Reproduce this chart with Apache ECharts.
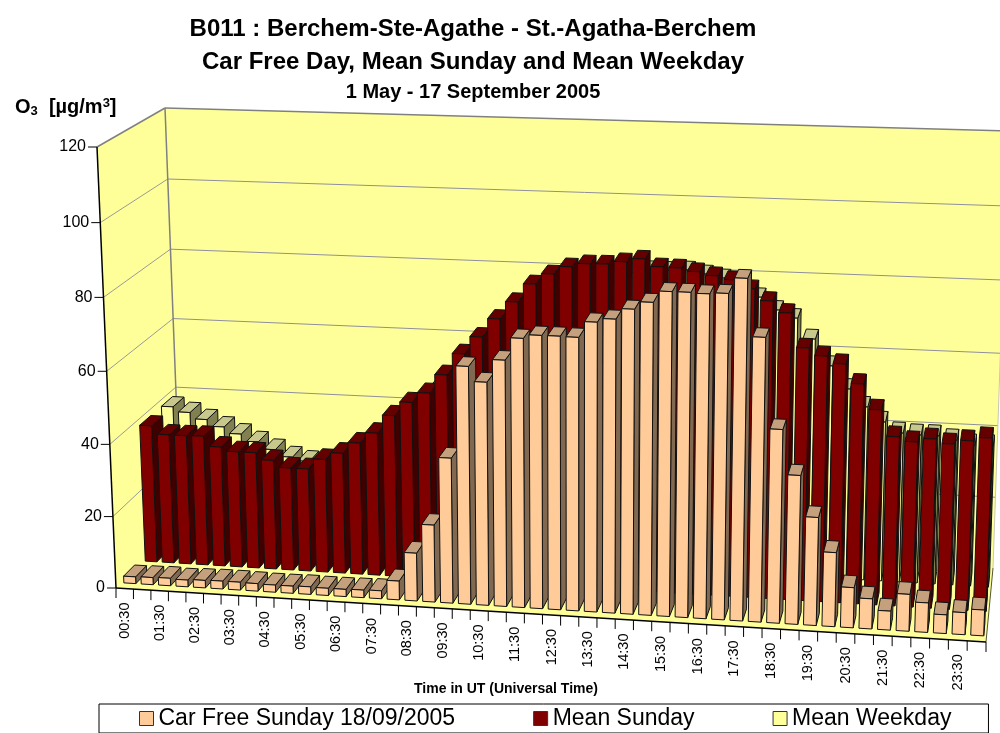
<!DOCTYPE html>
<html>
<head>
<meta charset="utf-8">
<title>B011 O3</title>
<script src="https://cdn.jsdelivr.net/npm/echarts@6/dist/echarts.min.js"></script>
<style>
html, body { margin: 0; padding: 0; background: #fff; }
#chart { width: 1000px; height: 733px; }
</style>
</head>
<body>
<div id="chart"></div>
<script>
const categories = [
  "00:30","01:00","01:30","02:00","02:30","03:00","03:30","04:00","04:30","05:00","05:30","06:00",
  "06:30","07:00","07:30","08:00","08:30","09:00","09:30","10:00","10:30","11:00","11:30","12:00",
  "12:30","13:00","13:30","14:00","14:30","15:00","15:30","16:00","16:30","17:00","17:30","18:00",
  "18:30","19:00","19:30","20:00","20:30","21:00","21:30","22:00","22:30","23:00","23:30","24:00"
];
const yTicks = [0, 20, 40, 60, 80, 100, 120];

const carFree = [
  1.9, 2, 2.1, 1.9, 2.1, 2.2, 2.2, 2.1, 2, 2, 2.1, 2, 2, 2.1, 2.2, 5.2,
  13.2, 21.2, 39.7, 64.6, 60.6, 66.7, 72.7, 73.7, 73.7, 73.6, 77.8, 78.8, 81.6, 83.6, 86.6, 86.6,
  86.4, 86.7, 90.8, 75.7, 51.8, 39.9, 29, 19.9, 10.8, 8.1, 5.1, 9.9, 7.9, 5, 5.9, 6.9
];
const meanSunday = [
  38.8, 36.5, 36.5, 36.6, 33.8, 32.7, 32.7, 30.8, 28.9, 28.9, 31.8, 33.8, 36.9, 39.9, 45, 48.9,
  51.7, 56.9, 62.9, 67.7, 72.8, 77.6, 82.6, 85.5, 87.6, 88.6, 88.7, 89.5, 90.4, 88.5, 88.4, 87.6,
  86.7, 85.8, 83.6, 80.6, 77.6, 68.5, 66.6, 64.7, 59.6, 52.9, 45.9, 44.8, 45.8, 44.7, 45.8, 46.8
];
const meanWeekday = [
  38.8, 37.4, 35.6, 33.7, 31.9, 29.9, 27.9, 26, 25, 25, 27, 30, 33, 37, 41, 45,
  49, 53, 57, 61, 65, 69, 73, 76, 78, 80, 81, 82, 83, 83, 83.3, 82.4,
  81.5, 80.9, 76.7, 73.4, 71.4, 65.9, 58.8, 52.7, 48, 44.1, 41.3, 41, 41, 40.1, 39, 39
];

// box corners on screen: F/B = front/back wall, L/R = left/right, 0/1 = bottom/top
const box = {
  FL0: [116, 588], FR0: [986, 642], BL0: [181, 522], BR0: [993, 568],
  FL1: [97, 147], FR1: [1003, 176], BL1: [165, 108], BR1: [1008, 131]
};
const gridRect = { left: 100, top: 100, width: 800, height: 500 };
const warpU = 1.04;
const warpV = 1.035;
const barWidth = 0.69;
const barDepth = 0.17;

const warp = (t, w) => t / (w + (1 - w) * t);
const mix = (a, b, t) => [a[0] + (b[0] - a[0]) * t, a[1] + (b[1] - a[1]) * t];

// grid pixel (from the hidden axes) + depth -> point in the tilted box
function project(px, py, d) {
  const u = warp((px - gridRect.left) / gridRect.width, warpU);
  const v = warp(1 - (py - gridRect.top) / gridRect.height, warpV);
  const front = mix(mix(box.FL0, box.FR0, u), mix(box.FL1, box.FR1, u), v);
  const back = mix(mix(box.BL0, box.BR0, u), mix(box.BL1, box.BR1, u), v);
  return mix(front, back, d);
}

function poly(points, fill, stroke, lineWidth) {
  return {
    type: "polygon",
    shape: { points: points },
    style: { fill: fill, stroke: stroke || null, lineWidth: lineWidth || 1 }
  };
}
function line(a, b, stroke, lineWidth) {
  return {
    type: "line",
    shape: { x1: a[0], y1: a[1], x2: b[0], y2: b[1] },
    style: { stroke: stroke, lineWidth: lineWidth || 1 }
  };
}

function renderFrame(params, api) {
  const x0 = gridRect.left;
  const x1 = gridRect.left + gridRect.width;
  const yb = api.coord([0, 0])[1];
  const yt = api.coord([0, 120])[1];
  const wall = "#FFFF99";
  const edge = "#808080";
  const children = [
    poly([project(x0, yb, 0), project(x0, yb, 1), project(x0, yt, 1), project(x0, yt, 0)], wall),
    poly([project(x0, yb, 1), project(x1, yb, 1), project(x1, yt, 1), project(x0, yt, 1)], wall),
    poly([project(x0, yb, 0), project(x1, yb, 0), project(x1, yb, 1), project(x0, yb, 1)], wall)
  ];
  yTicks.forEach(function (t) {
    const y = api.coord([0, t])[1];
    if (t > 0 && t < 120) {
      children.push(line(project(x0, y, 0), project(x0, y, 1), "#9a9a96"));
      children.push(line(project(x0, y, 1), project(x1, y, 1), "#8f8f9c"));
    }
  });
  children.push(line(project(x0, yt, 0), project(x0, yt, 1), edge, 1.5));
  children.push(line(project(x0, yt, 1), project(x1, yt, 1), edge, 1.5));
  children.push(line(project(x0, yb, 1), project(x0, yt, 1), edge, 1.5));
  children.push(line(project(x1, yb, 1), project(x1, yt, 1), "#c8c8b8", 1));
  children.push(line(project(x1, yb, 0), project(x1, yb, 1), "#555533", 1));
  return { type: "group", children: children };
}

function renderAxes(params, api) {
  const x0 = gridRect.left;
  const x1 = gridRect.left + gridRect.width;
  const yb = api.coord([0, 0])[1];
  const yt = api.coord([0, 120])[1];
  const children = [
    line(project(x0, yb, 0), project(x1, yb, 0), "#000", 1.5),
    line(project(x0, yb, 0), project(x0, yt, 0), "#000", 1.5)
  ];
  yTicks.forEach(function (t) {
    const p = project(x0, api.coord([0, t])[1], 0);
    children.push(line([p[0] - 9, p[1]], p, "#000", 1));
    children.push({
      type: "text",
      style: {
        text: String(t), x: p[0] - 11, y: p[1], align: "right", verticalAlign: "middle",
        font: '16px "Liberation Sans", Arial, sans-serif', fill: "#000"
      }
    });
  });
  const band = api.size([1, 0])[0];
  categories.forEach(function (c, i) {
    const cx = api.coord([i, 0])[0];
    const a = project(cx - band / 2, yb, 0);
    children.push(line(a, [a[0], a[1] + 10], "#000", 1));
    if (i === categories.length - 1) {
      const e = project(cx + band / 2, yb, 0);
      children.push(line(e, [e[0], e[1] + 10], "#000", 1));
    }
    if (i % 2 === 0) {
      const m = project(cx, yb, 0);
      children.push({
        type: "text",
        x: m[0], y: m[1] + 14, rotation: Math.PI / 2,
        style: {
          text: c, x: 0, y: 0, align: "right", verticalAlign: "middle",
          font: '14.5px "Liberation Sans", Arial, sans-serif', fill: "#000"
        }
      });
    }
  });
  return { type: "group", children: children };
}

function barRenderer(d0, front, top, side, stroke) {
  return function (params, api) {
    const i = api.value(0);
    const c = api.coord([i, api.value(1)]);
    const base = api.coord([i, 0]);
    const w = api.size([1, 0])[0] * barWidth / 2;
    const d1 = d0 + barDepth;
    const fl0 = project(c[0] - w, base[1], d0), fr0 = project(c[0] + w, base[1], d0);
    const br0 = project(c[0] + w, base[1], d1);
    const fl1 = project(c[0] - w, c[1], d0), fr1 = project(c[0] + w, c[1], d0);
    const bl1 = project(c[0] - w, c[1], d1), br1 = project(c[0] + w, c[1], d1);
    return {
      type: "group",
      children: [
        poly([fr0, br0, br1, fr1], side, stroke),
        poly([fl1, fr1, br1, bl1], top, stroke),
        poly([fl0, fr0, fr1, fl1], front, stroke)
      ]
    };
  };
}

function barSeries(name, values, d0, front, top, side) {
  return {
    name: name,
    type: "custom",
    coordinateSystem: "cartesian2d",
    clip: false,
    itemStyle: { color: front },
    encode: { x: 0, y: 1 },
    data: values.map(function (v, i) { return [i, v]; }),
    renderItem: barRenderer(d0, front, top, side, "#111")
  };
}

const fontFamily = '"Liberation Sans", Arial, sans-serif';
const chart = echarts.init(document.getElementById("chart"));
chart.setOption({
  animation: false,
  backgroundColor: "#fff",
  title: [
    { text: "B011 : Berchem-Ste-Agathe - St.-Agatha-Berchem", left: 468, top: 12, textAlign: "center",
      textStyle: { fontFamily: fontFamily, fontWeight: "bold", fontSize: 24, color: "#000" } },
    { text: "Car Free Day, Mean Sunday and Mean Weekday", left: 468, top: 45, textAlign: "center",
      textStyle: { fontFamily: fontFamily, fontWeight: "bold", fontSize: 24, color: "#000" } },
    { text: "1 May - 17 September 2005", left: 468, top: 77, textAlign: "center",
      textStyle: { fontFamily: fontFamily, fontWeight: "bold", fontSize: 20, color: "#000" } },
    { text: "{b|O}{s|3}{b|  [\u00b5g/m}{p|3}{b|]}", left: 10, top: 92,
      textStyle: {
        rich: {
          b: { fontFamily: fontFamily, fontWeight: "bold", fontSize: 20, color: "#000" },
          s: { fontFamily: fontFamily, fontWeight: "bold", fontSize: 13, color: "#000", verticalAlign: "bottom", padding: [8, 0, 0, 0] },
          p: { fontFamily: fontFamily, fontWeight: "bold", fontSize: 13, color: "#000", verticalAlign: "top", padding: [0, 0, 8, 0] }
        }
      } },
    { text: "Time in UT (Universal Time)", left: 501, top: 677, textAlign: "center",
      textStyle: { fontFamily: fontFamily, fontWeight: "bold", fontSize: 14, color: "#000" } }
  ],
  legend: {
    left: 99, top: 704,
    padding: [3, 37, 3, 40],
    itemGap: 78, itemWidth: 14, itemHeight: 14,
    backgroundColor: "#fff", borderColor: "#000", borderWidth: 1,
    selectedMode: false,
    textStyle: { fontFamily: fontFamily, fontSize: 23, color: "#000" },
    data: [
      { name: "Car Free Sunday 18/09/2005", icon: "rect", itemStyle: { color: "#FFCC99", borderColor: "#333", borderWidth: 1 } },
      { name: "Mean Sunday", icon: "rect", itemStyle: { color: "#800000", borderColor: "#333", borderWidth: 1 } },
      { name: "Mean Weekday", icon: "rect", itemStyle: { color: "#FFFF99", borderColor: "#333", borderWidth: 1 } }
    ]
  },
  grid: gridRect,
  xAxis: { type: "category", data: categories, show: false },
  yAxis: { type: "value", min: 0, max: 120, interval: 20, show: false },
  series: [
    { name: "frame", type: "custom", clip: false, data: [[0, 0]], encode: { x: 0, y: 1 }, renderItem: renderFrame },
    barSeries("Mean Weekday", meanWeekday, 0.74, "#FFFF99", "#C8C88C", "#808050"),
    barSeries("Mean Sunday", meanSunday, 0.41, "#800000", "#640000", "#400000"),
    barSeries("Car Free Sunday 18/09/2005", carFree, 0.08, "#FFCC99", "#C4A07D", "#806950"),
    { name: "axes", type: "custom", clip: false, data: [[0, 0]], encode: { x: 0, y: 1 }, renderItem: renderAxes }
  ]
});
</script>
</body>
</html>
